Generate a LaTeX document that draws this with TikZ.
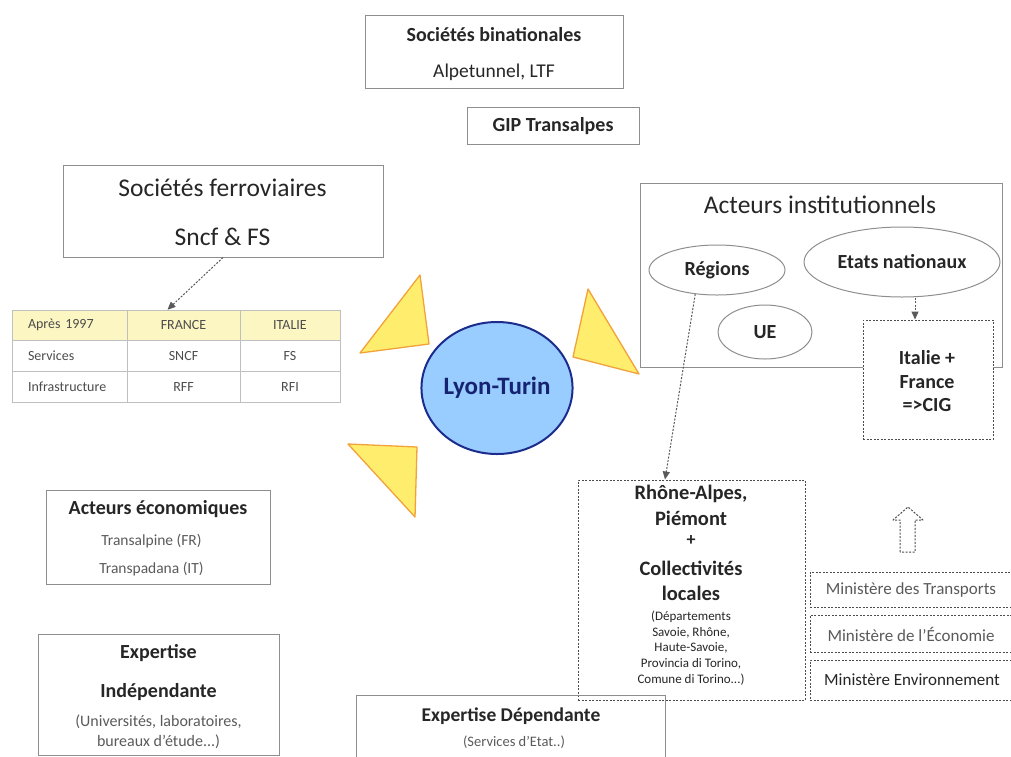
\documentclass[tikz,border=0pt]{standalone}
\usepackage{fontspec}
\setmainfont{Carlito}
\usetikzlibrary{arrows.meta,calc,shapes.geometric}
\definecolor{boxgray}{HTML}{8E8E8E}
\definecolor{txtdark}{HTML}{262626}
\definecolor{txtgray}{HTML}{5A5A5A}
\definecolor{triyellow}{HTML}{FFEE6E}
\definecolor{triorange}{HTML}{F2A23A}
\definecolor{lyonblue}{HTML}{99CCFF}
\definecolor{lyonnavy}{HTML}{1C2C8C}
\definecolor{hdyellow}{HTML}{FCF6C2}
\tikzset{
  box/.style={draw=boxgray, line width=1pt, inner sep=0pt},
  dbox/.style={draw=black!70, dash pattern=on 2pt off 1.5pt, line width=1pt, fill=white, inner sep=0pt},
  ell/.style={ellipse, draw=boxgray, line width=1pt},
  cell/.style={draw=black!25, line width=.6pt, inner sep=0pt, text=black!70, font=\fontsize{14}{14}\selectfont},
  tri/.style={fill=triyellow, draw=triorange, line width=1.3pt, line join=round},
  lbl/.style={inner sep=0pt, text=txtdark, font=\fontsize{#1}{#1}\selectfont},
  blbl/.style={inner sep=0pt, text=txtdark, font=\bfseries\fontsize{#1}{#1}\selectfont},
  darr/.style={draw=black!65, dash pattern=on 2pt off 1.5pt, line width=1pt, -{Triangle[length=8pt,width=7pt]}}
}
\begin{document}
\begin{tikzpicture}[x=1pt,y=-1pt]
\useasboundingbox (0,0) rectangle (1011,756);
\clip (0,0) rectangle (1011,756);
% top boxes
\node[box, minimum width=258, minimum height=73] (binat) at (494,51.5) {};
\node[blbl=20] (binattl) at (494,35) {Sociétés binationales};
\node[lbl=19.5] (binatsub) at (494,72) {Alpetunnel, LTF};
\node[box, minimum width=172, minimum height=37] (gip) at (553,125.5) {};
\node[blbl=20] (giptl) at (553,126) {GIP Transalpes};
% societes ferroviaires
\node[box, minimum width=320, minimum height=92] (ferro) at (223,211) {};
\node[lbl=25.5] (ferrotl) at (222.5,188) {Sociétés ferroviaires};
\node[lbl=25.5] (ferrosub) at (222.5,237) {Sncf \& FS};
% table
\fill[hdyellow] (12,310) rectangle (340,340);
\node[cell, minimum width=115, minimum height=30, text width=83, inner xsep=16, align=left] (hdan) at (69.5,325) {Après 1997};
\node[cell, minimum width=113, minimum height=30] (hdfr) at (183.5,325) {FRANCE};
\node[cell, minimum width=100, minimum height=30] (hdit) at (290,325) {ITALIE};
\node[cell, minimum width=115, minimum height=31, text width=83, inner xsep=16, align=left] (svlbl) at (69.5,355.5) {Services};
\node[cell, minimum width=113, minimum height=31] (svfr) at (183.5,355.5) {SNCF};
\node[cell, minimum width=100, minimum height=31] (svit) at (290,355.5) {FS};
\node[cell, minimum width=115, minimum height=31, text width=83, inner xsep=16, align=left] (inlbl) at (69.5,386.5) {Infrastructure};
\node[cell, minimum width=113, minimum height=31] (infr) at (183.5,386.5) {RFF};
\node[cell, minimum width=100, minimum height=31] (init) at (290,386.5) {RFI};
\draw[darr] (ferro.south) -- ($(hdfr.north)+(-16,0)$);
% acteurs institutionnels
\node[box, minimum width=362, minimum height=184] (inst) at (821,275) {};
\node[lbl=25.5] (insttl) at (820,205) {Acteurs institutionnels};
\node[ell, blbl=20, minimum width=136, minimum height=50] (regions) at (717,270) {Régions};
\node[ell, blbl=20, minimum width=196, minimum height=70] (etats) at (902,262) {Etats nationaux};
\node[ell, blbl=20, minimum width=94, minimum height=54] (ue) at (765,332) {UE};
\node[dbox, minimum width=130, minimum height=119] (italie) at (928,379.5) {};
\node[blbl=20] (italie1) at (927,358) {Italie +};
\node[blbl=20] (italie2) at (927,382) {France};
\node[blbl=20] (italie3) at (927,405) {=>CIG};
\draw[darr] ($(etats.south)+(13,0)$) -- ($(italie.north)+(-13,0)$);
% triangles
\filldraw[tri] (420,275) -- (360,353) -- (429,344) -- cycle;
\filldraw[tri] (588,289) -- (573,357) -- (639,374) -- cycle;
\filldraw[tri] (348,444) -- (417,447) -- (415,517) -- cycle;
% lyon-turin
\node[ellipse, fill=lyonblue, draw=lyonnavy, line width=2pt, minimum width=145, minimum height=132, inner sep=0pt, text=lyonnavy!80!black, font=\bfseries\fontsize{25}{25}\selectfont] (lyon) at (497,388) {Lyon-Turin};
% regions et collectivites
\node[dbox, minimum width=227, minimum height=220] (rhone) at (691.5,590) {};
\node[blbl=20.5] (rhone1) at (691,494) {Rhône-Alpes,};
\node[blbl=20.5] (rhone2) at (691,518) {Piémont};
\node[blbl=18] (rhone3) at (691,541) {+};
\node[blbl=20.5] (rhone4) at (691,568) {Collectivités};
\node[blbl=20.5] (rhone5) at (691,593) {locales};
\node[lbl=13] (rhone6) at (691,617) {(Départements};
\node[lbl=13] (rhone7) at (691,633) {Savoie, Rhône,};
\node[lbl=13] (rhone8) at (691,648) {Haute-Savoie,};
\node[lbl=13] (rhone9) at (691,664) {Provincia di Torino,};
\node[lbl=13] (rhone10) at (691,680) {Comune di Torino...)};
\draw[darr] (regions.228) -- ($(rhone.north)+(-26.5,0)$);
% ministeres
\draw[draw=black!70, dash pattern=on 2pt off 1.5pt, line width=1pt, line join=round] (900,552) -- (900,520) -- (893,520) -- (908,507) -- (923,520) -- (915,520) -- (915,552) -- cycle;
\node[dbox, minimum width=205, minimum height=35] (mintr) at (912.5,589.5) {};
\node[lbl=17, text=txtgray] (mintrtl) at (911,590) {Ministère des Transports};
\node[dbox, minimum width=205, minimum height=37] (mineco) at (912.5,633.5) {};
\node[lbl=17, text=txtgray] (minecotl) at (911,634) {Ministère de l’Économie};
\node[dbox, minimum width=205, minimum height=40] (minenv) at (912.5,680) {};
\node[lbl=17] (minenvtl) at (912,680) {Ministère Environnement};
% acteurs economiques et expertise
\node[box, minimum width=224, minimum height=94] (eco) at (158,537) {};
\node[blbl=20] (ecotl) at (158,509) {Acteurs économiques};
\node[lbl=15.5, text=txtgray] (eco1) at (151.5,541) {Transalpine (FR)};
\node[lbl=15.5, text=txtgray] (eco2) at (151.5,569) {Transpadana (IT)};
\node[box, minimum width=241, minimum height=121] (indep) at (158.5,694.5) {};
\node[blbl=20] (indep1) at (158.5,653) {Expertise};
\node[blbl=20] (indep2) at (158.5,692) {Indépendante};
\node[lbl=16, text=txtgray] (indep3) at (158.5,722) {(Universités, laboratoires,};
\node[lbl=16, text=txtgray] (indep4) at (158.5,742) {bureaux d’étude...)};
\node[box, minimum width=309, minimum height=75] (dep) at (510.5,732.5) {};
\node[blbl=19.5] (deptl) at (511,716) {Expertise Dépendante};
\node[lbl=14.5, text=txtgray] (depsub) at (514,742) {(Services d’Etat..)};
\end{tikzpicture}
\end{document}
